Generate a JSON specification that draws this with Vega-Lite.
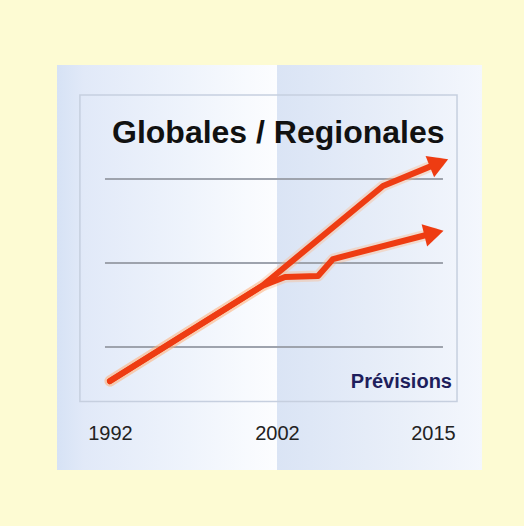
{
  "$schema": "https://vega.github.io/schema/vega-lite/v6.json",
  "width": 425,
  "height": 405,
  "autosize": "none",
  "padding": {"left": 57, "top": 65, "right": 42, "bottom": 56},
  "background": "#fdfbd3",
  "config": {"view": {"stroke": null}, "font": "Liberation Sans"},
  "datasets": {
    "panel": [
      {"part": "left", "x0": 1988.83, "x1": 2002, "y0": -46.4, "y1": 435.7},
      {"part": "right", "x0": 2002, "x1": 2019.08, "y0": -46.4, "y1": 435.7}
    ],
    "frame": [{"x0": 1990.2, "x1": 2017, "y0": 35, "y1": 400}],
    "grid": [
      {"x0": 1991.7, "x1": 2015.83, "v": 100},
      {"x0": 1991.7, "x1": 2015.83, "v": 200},
      {"x0": 1991.7, "x1": 2015.83, "v": 300}
    ],
    "lines": [
      {"series": "Globales", "year": 1992, "value": 59.5},
      {"series": "Globales", "year": 2001.1, "value": 172.6},
      {"series": "Globales", "year": 2010.83, "value": 291.7},
      {"series": "Globales", "year": 2015.5, "value": 319.2},
      {"series": "Regionales", "year": 1992, "value": 59.5},
      {"series": "Regionales", "year": 2001.1, "value": 172.6},
      {"series": "Regionales", "year": 2002.67, "value": 183.3},
      {"series": "Regionales", "year": 2005.42, "value": 184.5},
      {"series": "Regionales", "year": 2006.67, "value": 204.7},
      {"series": "Regionales", "year": 2015.08, "value": 235.7}
    ],
    "arrows": [
      {"series": "Globales", "year": 2015.5, "value": 319.2},
      {"series": "Regionales", "year": 2015.08, "value": 235.7}
    ],
    "labels": [{"title": "Globales / Regionales", "note": "Prévisions"}]
  },
  "layer": [
    {
      "data": {"name": "panel"},
      "transform": [{"filter": "datum.part === 'left'"}],
      "mark": {"type": "rect", "color": {"gradient": "linear", "x1": 0, "y1": 0, "x2": 1, "y2": 0,
        "stops": [{"offset": 0, "color": "#d6e2f5"}, {"offset": 0.12, "color": "#e1e9f8"}, {"offset": 0.6, "color": "#eff4fc"}, {"offset": 1, "color": "#fcfdff"}]}},
      "encoding": {
        "x": {"field": "x0", "type": "quantitative", "scale": {"domain": [1988.83, 1992, 2002, 2015, 2019.08], "range": [0, 53, 220, 376, 425], "nice": false, "zero": false},
          "axis": {"values": [1992, 2002, 2015], "format": "d", "domain": false, "ticks": false, "tickSize": 0, "grid": false, "labelFontSize": 20, "labelFont": "Liberation Sans", "labelColor": "#222222", "labelPadding": 0, "labelBaseline": "top", "offset": -47, "labelFlush": false, "labelOverlap": false, "title": null, "zindex": 1}},
        "x2": {"field": "x1"},
        "y": {"field": "y0", "type": "quantitative", "scale": {"domain": [-46.4, 435.7], "nice": false, "zero": false}, "axis": null},
        "y2": {"field": "y1"}
      }
    },
    {
      "data": {"name": "panel"},
      "transform": [{"filter": "datum.part === 'right'"}],
      "mark": {"type": "rect", "color": {"gradient": "linear", "x1": 0, "y1": 0, "x2": 1, "y2": 0,
        "stops": [{"offset": 0, "color": "#dae4f5"}, {"offset": 0.6, "color": "#e9eff9"}, {"offset": 1, "color": "#f4f7fd"}]}},
      "encoding": {
        "x": {"field": "x0", "type": "quantitative"},
        "x2": {"field": "x1"},
        "y": {"field": "y0", "type": "quantitative", "axis": null},
        "y2": {"field": "y1"}
      }
    },
    {
      "data": {"name": "frame"},
      "mark": {"type": "rect", "fill": null, "stroke": "#c6cfdf", "strokeWidth": 1.5},
      "encoding": {
        "x": {"field": "x0", "type": "quantitative"},
        "x2": {"field": "x1"},
        "y": {"field": "y0", "type": "quantitative", "axis": null},
        "y2": {"field": "y1"}
      }
    },
    {
      "data": {"name": "grid"},
      "mark": {"type": "rule", "color": "#9ea3ad", "strokeWidth": 2},
      "encoding": {
        "x": {"field": "x0", "type": "quantitative"},
        "x2": {"field": "x1"},
        "y": {"field": "v", "type": "quantitative", "axis": null}
      }
    },
    {
      "data": {"name": "lines"},
      "mark": {"type": "line", "color": "#ffb27a", "strokeWidth": 11, "opacity": 0.35, "strokeJoin": "round", "strokeCap": "round"},
      "encoding": {
        "x": {"field": "year", "type": "quantitative"},
        "y": {"field": "value", "type": "quantitative", "axis": null},
        "detail": {"field": "series"}
      }
    },
    {
      "data": {"name": "lines"},
      "mark": {"type": "line", "color": "#ee3c12", "strokeWidth": 6, "strokeJoin": "round", "strokeCap": "round"},
      "encoding": {
        "x": {"field": "year", "type": "quantitative"},
        "y": {"field": "value", "type": "quantitative", "axis": null},
        "detail": {"field": "series"}
      }
    },
    {
      "data": {"name": "arrows"},
      "transform": [{"filter": "datum.series === 'Globales'"}],
      "mark": {"type": "point", "shape": "triangle-right", "filled": true, "color": "#ee3c12", "opacity": 1, "size": 520, "angle": -22},
      "encoding": {
        "x": {"field": "year", "type": "quantitative"},
        "y": {"field": "value", "type": "quantitative", "axis": null}
      }
    },
    {
      "data": {"name": "arrows"},
      "transform": [{"filter": "datum.series === 'Regionales'"}],
      "mark": {"type": "point", "shape": "triangle-right", "filled": true, "color": "#ee3c12", "opacity": 1, "size": 520, "angle": -14},
      "encoding": {
        "x": {"field": "year", "type": "quantitative"},
        "y": {"field": "value", "type": "quantitative", "axis": null}
      }
    },
    {
      "data": {"name": "labels"},
      "mark": {"type": "text", "align": "left", "baseline": "alphabetic", "font": "Liberation Sans", "fontSize": 32, "fontWeight": "bold", "color": "#111111"},
      "encoding": {
        "x": {"datum": 1992.12, "type": "quantitative"},
        "y": {"datum": 342.8, "type": "quantitative", "axis": null},
        "text": {"field": "title"}
      }
    },
    {
      "data": {"name": "labels"},
      "mark": {"type": "text", "align": "right", "baseline": "alphabetic", "font": "Liberation Sans", "fontSize": 20, "fontWeight": "bold", "color": "#1e1e5c"},
      "encoding": {
        "x": {"datum": 2016.58, "type": "quantitative"},
        "y": {"datum": 51.2, "type": "quantitative", "axis": null},
        "text": {"field": "note"}
      }
    }
  ]
}
